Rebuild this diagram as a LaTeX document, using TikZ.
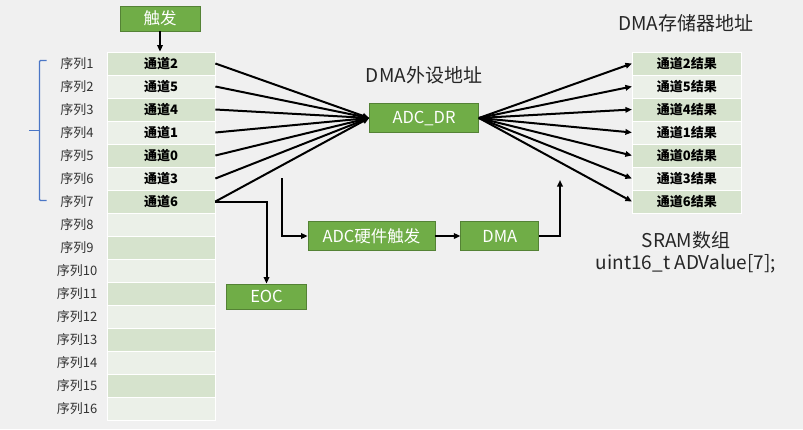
\documentclass[tikz,border=0pt]{standalone}
\usepackage{fontspec}
\setmainfont{Noto Sans CJK SC}
\usetikzlibrary{arrows.meta,positioning,calc}
\definecolor{Bg}{HTML}{f0f0f0}
\definecolor{Leaf}{HTML}{70ad47}
\definecolor{LeafDark}{HTML}{548235}
\definecolor{RowDark}{HTML}{d6e3cd}
\definecolor{RowLight}{HTML}{ebf0e8}
\definecolor{Brace}{HTML}{4a76c6}
\definecolor{Ink}{HTML}{333333}

\begin{document}
\begin{tikzpicture}[
        x=1pt, y=-1pt,
        %Environment Cfg.
        >={Triangle[length=6.5pt,width=5.5pt]},%from arrows.meta
        %Environment Styles.
        gBox/.style={
            rectangle,
            minimum height=29pt,
            draw=LeafDark,
            line width=0.8pt,
            fill=Leaf,
            text=white,
            inner sep=0pt,
            font=\fontsize{16.5}{18}\selectfont
        },
        cell/.style={
            rectangle,
            minimum height=23pt,
            inner sep=0pt,
            draw=white,
            line width=0.8pt,
            text=black,
            font=\fontsize{13}{15}\selectfont\bfseries
        },
        seqLbl/.style={
            text=Ink,
            font=\fontsize{13}{15}\selectfont
        },
        title/.style={
            text=black!85,
            font=\fontsize{19}{22}\selectfont
        },
        wire/.style={line width=2pt, black}
    ]
    \useasboundingbox[fill=Bg] (0,0) rectangle (803,429);

    %Sequence table on the left, channel order of the regular group
    \foreach \i/\ch in {1/2,2/5,3/4,4/1,5/0,6/3,7/6,8/,9/,10/,11/,12/,13/,14/,15/,16/}{
        \pgfmathparse{isodd(\i) ? "RowDark" : "RowLight"}
        \edef\rowcol{\pgfmathresult}
        \node[cell, fill=\rowcol, minimum width=108pt] (L-\i) at (161,{40.5+23*\i})
            {\ifx\ch\empty\else 通道\ch\fi};
        \node[seqLbl] (seq-\i) at (77,{40.5+23*\i}) {序列\i};
    }

    %Result array on the right
    \foreach \i/\ch in {1/2,2/5,3/4,4/1,5/0,6/3,7/6}{
        \pgfmathparse{isodd(\i) ? "RowDark" : "RowLight"}
        \edef\rowcol{\pgfmathresult}
        \node[cell, fill=\rowcol, minimum width=109pt] (R-\i) at (686.8,{40.5+23*\i})
            {通道\ch 结果};
    }

    %Boxes
    \node[gBox, minimum width=80pt, minimum height=25pt] (TRIG) at (160,18.5) {触发};
    \node[gBox, minimum width=109pt] (ADC) at (424,118) {ADC\_DR};
    \node[gBox, minimum width=80pt, minimum height=25pt] (EOC) at (266.5,296.5) {EOC};
    \node[gBox, minimum width=127pt] (HWT) at (371.5,236) {ADC硬件触发};
    \node[gBox, minimum width=78pt, right=25pt of HWT] (DMA) {DMA};

    %Titles
    \node[title] (perAddr) at (424,75) {DMA外设地址};
    \node[title] (memAddr) at (686,23) {DMA存储器地址};
    \node[title] (sram) at (686,240) {SRAM数组};
    \node[title, below=-1pt of sram] (adv) {uint16\_t ADValue[7];};

    %Free ends of the trigger path
    \coordinate (hwIn) at (282,178);
    \coordinate (dmaOut) at (560,180);

    %Brace over the 7 converted sequences
    \draw[Brace, line width=1.2pt, rounded corners=1pt]
        (46.5,60.5) -- (39.5,60.5) -- (39.5,200.5) -- (46.5,200.5);
    \draw[Brace, line width=1.2pt] (39.5,130.7) -- (28.5,130.7);

    %Connectors
    \draw[->, wire] (TRIG.south) -- (L-1.north -| TRIG.south);
    \foreach \i in {1,...,7}{
        \draw[->, wire] (L-\i.east) -- (ADC.west);
        \draw[->, wire] (ADC.east) -- (R-\i.west);
    }
    \draw[->, wire] (L-7.east) -| (EOC.north);
    \draw[->, wire] (hwIn) |- (HWT.west);
    \draw[->, wire] (HWT.east) -- (DMA.west);
    \draw[->, wire] (DMA.east) -| (dmaOut);

\end{tikzpicture}
\end{document}
